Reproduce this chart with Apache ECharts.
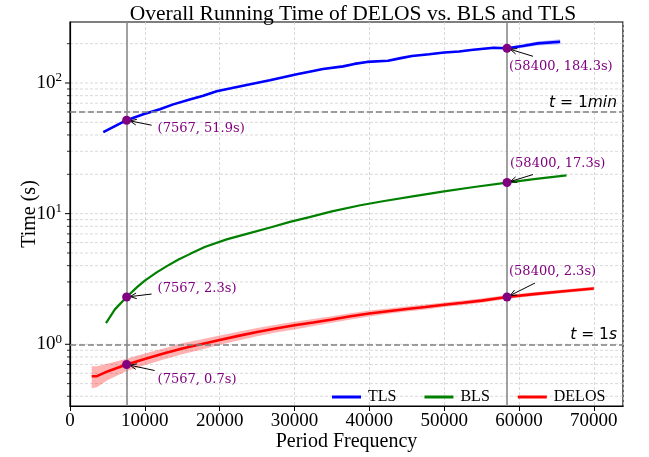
<!DOCTYPE html>
<html>
<head>
<meta charset="utf-8">
<script src="https://cdn.jsdelivr.net/npm/echarts@6/dist/echarts.min.js"></script>
<style>html,body{margin:0;padding:0;background:#fff;}#c{width:649px;height:457px;}</style>
</head>
<body>
<div id="c"></div>
<script>
// ---------------- data ----------------
const TLS_X = [4450, 7567, 9800, 12000, 13800, 16000, 17800, 19600, 21500, 23600, 26700, 28500, 30300, 32000, 33800, 36500, 38000, 39700, 42500, 44200, 45700, 48000, 50000, 52000, 53600, 56600, 58400, 60500, 62500, 65500];
const TLS_Y = [42, 51.9, 57.6, 63, 68.6, 74.8, 80, 86.5, 91, 96.5, 105, 110.5, 116.5, 122, 128, 134, 140, 145, 148, 155, 161, 166, 171, 174, 179, 186, 184.3, 192, 201, 207];
const TLS_LO = [41.4, 51.2, 56.8, 62.1, 67.6, 73.7, 78.8, 85.2, 89.6, 95.1, 103.4, 108.8, 114.7, 120.2, 126.1, 132, 137.9, 142.8, 145.8, 152.7, 158.6, 163.5, 168.4, 171.4, 176.3, 182.3, 180.6, 186, 194, 198];
const TLS_HI = [42.6, 52.6, 58.4, 63.9, 69.6, 75.9, 81.2, 87.8, 92.4, 97.9, 106.6, 112.2, 118.3, 123.8, 129.9, 136, 142.1, 147.2, 150.2, 157.3, 163.4, 168.5, 173.6, 176.6, 181.7, 189.7, 188, 198, 208, 216];

const BLS_X = [4810, 6000, 7567, 9000, 10000, 11580, 13000, 14500, 16000, 18000, 20930, 24000, 27000, 29390, 32000, 35000, 38800, 42000, 46000, 50000, 54000, 58400, 62000, 66350];
const BLS_Y = [1.45, 1.85, 2.3, 2.75, 3.07, 3.55, 3.98, 4.45, 4.9, 5.55, 6.35, 7.1, 7.9, 8.65, 9.4, 10.4, 11.6, 12.5, 13.6, 14.8, 16.0, 17.3, 18.4, 19.6];

const DELOS_X = [2900, 3600, 5000, 7567, 10000, 12500, 15000, 17500, 20000, 22500, 25000, 27500, 30000, 32500, 35000, 37500, 40000, 42500, 45000, 47500, 50000, 52500, 55000, 58400, 62000, 66000, 70000];
const DELOS_Y = [0.57, 0.57, 0.62, 0.70, 0.77, 0.85, 0.93, 1.00, 1.08, 1.16, 1.24, 1.32, 1.40, 1.47, 1.55, 1.64, 1.72, 1.79, 1.86, 1.93, 2.01, 2.08, 2.16, 2.30, 2.42, 2.55, 2.67];
const DELOS_LO = [0.46, 0.47, 0.53, 0.625, 0.69, 0.765, 0.84, 0.91, 0.99, 1.07, 1.15, 1.23, 1.30, 1.38, 1.46, 1.55, 1.63, 1.71, 1.78, 1.85, 1.93, 2.00, 2.08, 2.22, 2.34, 2.47, 2.59];
const DELOS_HI = [0.68, 0.68, 0.71, 0.775, 0.85, 0.93, 1.02, 1.09, 1.17, 1.25, 1.33, 1.41, 1.49, 1.56, 1.64, 1.73, 1.81, 1.88, 1.95, 2.02, 2.09, 2.16, 2.24, 2.38, 2.50, 2.63, 2.76];

const ANN_X = [7567, 7567, 7567, 58400, 58400, 58400];
const ANN_Y = [51.9, 2.3, 0.7, 184.3, 17.3, 2.3];

const REF_LINES_Y = [1, 60];
const REF_LABELS = ['1s', '1min'];
const MARK_X = [7567, 58400];

const X_MIN = 0, X_MAX = 73900, X_STEP = 10000;
const Y_MIN = 0.337, Y_MAX = 293;
const Y_MAJOR = [1, 10, 100];
const Y_MINOR = [0.4, 0.5, 0.6, 0.7, 0.8, 0.9, 2, 3, 4, 5, 6, 7, 8, 9, 20, 30, 40, 50, 60, 70, 80, 90, 200];

// ---------------- layout (pixel offsets for annotation text / arrow tails) ----------------
const ANN_LAYOUT = [
  {tx: 31, ty: 8, ax: 25, ay: 5},
  {tx: 31, ty: -8, ax: 25, ay: -3},
  {tx: 31, ty: 15, ax: 28, ay: 6},
  {tx: 2, ty: 18, ax: 26, ay: 8},
  {tx: 3, ty: -19, ax: 26, ay: -8},
  {tx: 2, ty: -25, ax: 28, ay: -14}
];

const SERIF = '"Liberation Serif", "DejaVu Serif", serif';
const ANN_FONT = '"DejaVu Serif", serif';
const zip = (xs, ys) => xs.map((x, i) => [x, ys[i]]);

function bandSeries(xs, lo, hi, color) {
  return {
    type: 'custom', silent: true, z: 1, clip: true,
    data: [[xs[0], hi[0]]],
    renderItem: function (params, api) {
      const pts = [];
      for (let i = 0; i < xs.length; i++) pts.push(api.coord([xs[i], hi[i]]));
      for (let i = xs.length - 1; i >= 0; i--) pts.push(api.coord([xs[i], lo[i]]));
      return {type: 'polygon', shape: {points: pts}, style: {fill: color}};
    }
  };
}

const gridData = Y_MAJOR.map(v => [X_MIN, v, 1]).concat(Y_MINOR.map(v => [X_MIN, v, 0]));

const chart = echarts.init(document.getElementById('c'), null, {renderer: 'canvas'});
chart.setOption({
  animation: false,
  backgroundColor: '#fff',
  title: {
    text: 'Overall Running Time of DELOS vs. BLS and TLS',
    left: 348, top: -2, textAlign: 'center',
    textStyle: {fontFamily: SERIF, fontSize: 21.5, fontWeight: 'normal', color: '#000'}
  },
  grid: {left: 70, right: 26, top: 22, bottom: 48, containLabel: false,
         show: true, borderColor: '#000', borderWidth: 1.2},
  legend: {
    left: 332, top: 389, padding: 0, itemGap: 28, itemWidth: 29, itemHeight: 3,
    icon: 'rect', data: ['TLS', 'BLS', 'DELOS'],
    textStyle: {fontFamily: SERIF, fontSize: 16, color: '#000', padding: [0, 0, 0, 2]}
  },
  xAxis: {
    type: 'value', min: X_MIN, max: X_MAX, interval: X_STEP,
    name: 'Period Frequency', nameLocation: 'middle', nameGap: 26, nameMoveOverlap: false,
    nameTextStyle: {fontFamily: SERIF, fontSize: 20, color: '#000'},
    axisLine: {show: true, lineStyle: {color: '#000', width: 1.2}},
    axisTick: {show: true, length: 5, lineStyle: {color: '#000', width: 1}},
    axisLabel: {fontFamily: SERIF, fontSize: 19, color: '#000', margin: 6,
                showMaxLabel: false, formatter: v => String(v)},
    splitLine: {show: true, lineStyle: {color: '#cfcfcf', width: 0.8, type: [3, 2]}}
  },
  yAxis: {
    type: 'log', logBase: 10, min: Y_MIN, max: Y_MAX,
    name: 'Time (s)', nameLocation: 'middle', nameGap: 30, nameRotate: 90, nameMoveOverlap: false,
    nameTextStyle: {fontFamily: SERIF, fontSize: 20, color: '#000'},
    axisLine: {show: true, lineStyle: {color: '#000', width: 1.2}},
    axisTick: {show: false},
    splitLine: {show: false},
    axisLabel: {
      margin: 8, color: '#000',
      formatter: function (v) {
        const l = Math.log10(v), r = Math.round(l);
        if (Math.abs(l - r) < 1e-6) return '{b|10}{s|' + r + '}';
        return '';
      },
      rich: {
        b: {fontFamily: SERIF, fontSize: 19, color: '#000'},
        s: {fontFamily: SERIF, fontSize: 13, color: '#000', verticalAlign: 'top', padding: [0, 0, 10, 0]}
      }
    }
  },
  series: [
    {
      type: 'custom', silent: true, z: 0, clip: false,
      data: gridData,
      renderItem: function (params, api) {
        const v = api.value(1), major = api.value(2);
        const p0 = api.coord([X_MIN, v]), p1 = api.coord([X_MAX, v]);
        const tl = major ? 5 : 3;
        return {type: 'group', children: [
          {type: 'line', shape: {x1: p0[0], y1: p0[1], x2: p1[0], y2: p1[1]},
           style: {stroke: '#cfcfcf', lineWidth: 0.8, lineDash: [3, 2]}},
          {type: 'line', shape: {x1: p0[0] - tl, y1: p0[1], x2: p0[0], y2: p0[1]},
           style: {stroke: '#000', lineWidth: major ? 1 : 0.8}}
        ]};
      }
    },
    Object.assign(bandSeries(TLS_X, TLS_LO, TLS_HI, 'rgba(0,0,255,0.25)'), {name: 'TLS band'}),
    Object.assign(bandSeries(DELOS_X, DELOS_LO, DELOS_HI, 'rgba(255,0,0,0.3)'), {name: 'DELOS band'}),
    {
      name: 'TLS', type: 'line', data: zip(TLS_X, TLS_Y), showSymbol: false, z: 3,
      lineStyle: {color: '#0000ff', width: 2.6}, itemStyle: {color: '#0000ff'}
    },
    {
      name: 'BLS', type: 'line', data: zip(BLS_X, BLS_Y), showSymbol: false, z: 3,
      lineStyle: {color: '#008000', width: 2.2}, itemStyle: {color: '#008000'}
    },
    {
      name: 'DELOS', type: 'line', data: zip(DELOS_X, DELOS_Y), showSymbol: false, z: 3,
      lineStyle: {color: '#ff0000', width: 2.6}, itemStyle: {color: '#ff0000'},
      markLine: {
        silent: true, symbol: 'none', animation: false,
        data: REF_LINES_Y.map((v, i) => ({
          yAxis: v,
          lineStyle: {color: '#808080', width: 1.5, type: [6, 3]},
          label: {
            show: true, position: 'insideEndTop', distance: [6, 1],
            formatter: '{i|t}{n| = 1}' + (REF_LABELS[i] === '1s' ? '{i|s}' : '{i|min}'),
            rich: {
              i: {fontFamily: '"DejaVu Sans", sans-serif', fontStyle: 'italic', fontSize: 15.5, color: '#000'},
              n: {fontFamily: '"DejaVu Sans", sans-serif', fontSize: 15.5, color: '#000'}
            }
          }
        })).concat(MARK_X.map(v => ({
          xAxis: v,
          lineStyle: {color: '#8a8a8a', width: 1.6, type: 'solid'},
          label: {show: false}
        })))
      }
    },
    {
      type: 'custom', silent: true, z: 5, clip: false,
      data: zip(ANN_X, ANN_Y),
      renderItem: function (params, api) {
        const i = params.dataIndex;
        const x = api.value(0), y = api.value(1);
        const p = api.coord([x, y]);
        const L = ANN_LAYOUT[i];
        const tail = [p[0] + L.ax, p[1] + L.ay];
        const dx = p[0] - tail[0], dy = p[1] - tail[1];
        const len = Math.sqrt(dx * dx + dy * dy);
        const ux = dx / len, uy = dy / len;
        const tip = [p[0] - ux * 3.5, p[1] - uy * 3.5];
        const hl = 7, ang = 0.42;
        const h1 = [tip[0] - hl * (ux * Math.cos(ang) - uy * Math.sin(ang)), tip[1] - hl * (uy * Math.cos(ang) + ux * Math.sin(ang))];
        const h2 = [tip[0] - hl * (ux * Math.cos(ang) + uy * Math.sin(ang)), tip[1] - hl * (uy * Math.cos(ang) - ux * Math.sin(ang))];
        return {type: 'group', children: [
          {type: 'line', shape: {x1: tail[0], y1: tail[1], x2: tip[0], y2: tip[1]}, style: {stroke: '#000', lineWidth: 1}},
          {type: 'polyline', shape: {points: [h1, tip, h2]}, style: {stroke: '#000', lineWidth: 1, fill: null}},
          {type: 'circle', shape: {cx: p[0], cy: p[1], r: 4.5}, style: {fill: '#800080'}},
          {type: 'text', x: p[0] + L.tx, y: p[1] + L.ty,
           style: {text: '(' + x + ', ' + y.toFixed(1) + 's)', fill: '#800080', font: '13px ' + ANN_FONT,
                   textAlign: 'left', textVerticalAlign: 'middle'}}
        ]};
      }
    }
  ]
});
</script>
</body>
</html>
